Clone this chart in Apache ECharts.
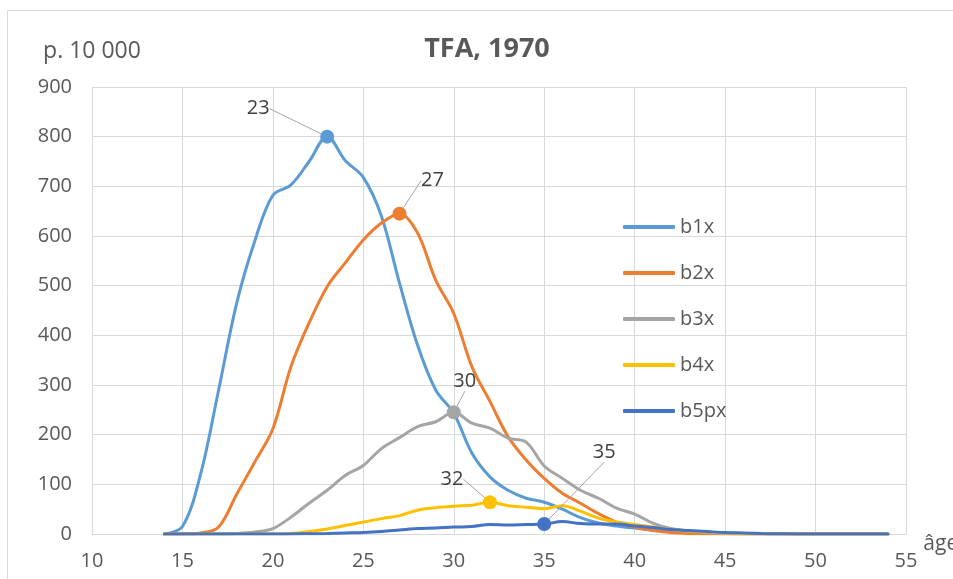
<!DOCTYPE html>
<html>
<head>
<meta charset="utf-8">
<title>TFA, 1970</title>
<script src="https://cdn.jsdelivr.net/npm/echarts@6/dist/echarts.min.js"></script>
<style>
  html, body { margin: 0; padding: 0; background: #fff; }
  #chart { width: 953px; height: 579px; }
</style>
</head>
<body>
<div id="chart"></div>
<script>
var ages = [14, 15, 16, 17, 18, 19, 20, 21, 22, 23, 24, 25, 26, 27, 28, 29, 30, 31, 32, 33, 34,
  35, 36, 37, 38, 39, 40, 41, 42, 43, 44, 45, 46, 47, 48, 49, 50, 51, 52, 53, 54];
var b1x = [0, 15, 120, 290, 465, 590, 682, 703, 750, 800, 752, 718, 640, 505, 380, 290, 243, 163, 115, 88, 72,
  64, 50, 33, 22, 16, 12, 8, 5, 3, 2, 1, 0.5, 0.3, 0.2, 0.1, 0, 0, 0, 0, 0];
var b2x = [0, 0, 2, 14, 80, 145, 212, 337, 425, 498, 546, 592, 626, 645, 606, 511, 444, 337, 267, 196, 149,
  112, 82, 62, 41, 24, 14, 7, 3, 1, 0.5, 0, 0, 0, 0, 0, 0, 0, 0, 0, 0];
var b3x = [0, 0, 0, 0, 1, 4, 11, 34, 62, 88, 118, 138, 172, 194, 216, 226, 245, 223, 213, 193, 185,
  137, 112, 88, 72, 52, 40, 22, 11, 6, 3, 1.5, 1, 0.5, 0, 0, 0, 0, 0, 0, 0];
var b4x = [0, 0, 0, 0, 0, 0, 0, 1, 5, 10, 17, 24, 31, 37, 48, 53, 56, 58, 64, 57, 54,
  51, 57, 46, 32, 24, 19, 14, 9, 6, 4, 2, 1, 0.5, 0, 0, 0, 0, 0, 0, 0];
var b5px = [0, 0, 0, 0, 0, 0, 0, 0, 0.5, 1, 2, 3, 5, 8, 11, 12, 14, 15, 19, 18, 19,
  20, 25, 21, 20, 20, 16, 13, 9, 7, 5, 3, 2, 1, 0.5, 0, 0, 0, 0, 0, 0];

var seriesNames = ['b1x', 'b2x', 'b3x', 'b4x', 'b5px'];
var seriesValues = [b1x, b2x, b3x, b4x, b5px];
var colors = ['#5B9BD5', '#ED7D31', '#A5A5A5', '#FFC000', '#4472C4'];
// ages where the peak is marked and labelled
var peakAges = [23, 27, 30, 32, 35];
// label offsets from the marker
var labelShift = [[-69, -28], [33, -33], [11, -31], [-38, -23], [60, -72]];

var textColor = '#595959';
var fontFamily = '"Open Sans", "Noto Sans", sans-serif';

var chart = echarts.init(document.getElementById('chart'));

var series = [];
for (var s = 0; s < seriesNames.length; s++) {
  var vals = seriesValues[s];
  series.push({
    name: seriesNames[s],
    type: 'line',
    smooth: 0.35,
    showSymbol: false,
    symbol: 'none',
    lineStyle: { width: 3, color: colors[s], cap: 'round' },
    itemStyle: { color: colors[s] },
    data: ages.map(function (a, i) { return [a, vals[i]]; }),
    z: 2 + s
  });
}
for (var p = 0; p < peakAges.length; p++) {
  var idx = ages.indexOf(peakAges[p]);
  series.push({
    type: 'scatter',
    symbol: 'circle',
    symbolSize: 14,
    itemStyle: { color: colors[p], opacity: 1 },
    label: {
      show: true,
      position: 'inside',
      formatter: String(peakAges[p]),
      color: '#404040',
      fontSize: 20,
      fontFamily: fontFamily
    },
    labelLayout: { dx: labelShift[p][0], dy: labelShift[p][1] },
    labelLine: { show: true, lineStyle: { color: '#A6A6A6', width: 1 } },
    data: [[peakAges[p], seriesValues[p][idx]]],
    z: 10
  });
}

chart.setOption({
  animation: false,
  backgroundColor: '#fff',
  textStyle: { fontFamily: fontFamily },
  graphic: [{
    type: 'rect',
    left: 5,
    top: 8,
    shape: { width: 1000, height: 700 },
    style: { fill: 'none', stroke: '#D9D9D9', lineWidth: 1 },
    silent: true
  }],
  title: {
    text: 'TFA, 1970',
    left: 482,
    top: 31,
    textAlign: 'center',
    textStyle: { color: textColor, fontSize: 27, fontWeight: 'bold', fontFamily: fontFamily }
  },
  legend: {
    data: seriesNames,
    orient: 'vertical',
    left: 618,
    top: 212,
    icon: 'roundRect',
    itemWidth: 52,
    itemHeight: 4,
    itemGap: 26,
    textStyle: { color: textColor, fontSize: 20, lineHeight: 20, fontFamily: fontFamily }
  },
  grid: { left: 92, right: 47, top: 87, bottom: 45, outerBoundsMode: 'none' },
  xAxis: {
    type: 'value',
    min: 10,
    max: 55,
    interval: 5,
    name: 'âge',
    nameLocation: 'end',
    nameGap: 10,
    nameTextStyle: { color: textColor, fontSize: 21, verticalAlign: 'top' },
    axisLine: { show: true, lineStyle: { color: '#D9D9D9', width: 1 } },
    axisTick: { show: false },
    axisLabel: { color: textColor, fontSize: 20, margin: 17 },
    splitLine: { show: true, lineStyle: { color: '#D9D9D9', width: 1 } }
  },
  yAxis: {
    type: 'value',
    min: 0,
    max: 900,
    interval: 100,
    name: 'p. 10 000',
    nameLocation: 'end',
    nameGap: 24,
    nameTextStyle: { color: textColor, fontSize: 23, align: 'center' },
    axisLine: { show: false },
    axisTick: { show: false },
    axisLabel: { color: textColor, fontSize: 20, margin: 20 },
    splitLine: { show: true, lineStyle: { color: '#D9D9D9', width: 1 } }
  },
  series: series
});
</script>
</body>
</html>
